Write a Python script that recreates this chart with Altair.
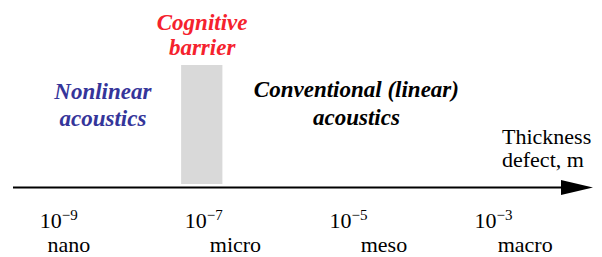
import altair as alt
import pandas as pd

# ---- data ----
exponents = [-9, -7, -5, -3]                 # tick values (powers of ten)
scale_names = ["nano", "micro", "meso", "macro"]
scale_name_at = [-8.6, -6.3, -4.25, -2.3]    # where each scale name sits (log10 m)
barrier_from = [-7.05]
barrier_to = [-6.48]
region_labels = ["Nonlinear\nacoustics", "Cognitive\nbarrier", "Conventional (linear)\nacoustics"]
region_at = [-8.13, -6.76, -4.63]
axis_title = "Thickness\ndefect, m"
axis_title_at = -2.62
x_domain = [-9.44, -1.35]

FONT = "Liberation Serif"
W, H = 586, 248

xs = alt.Scale(domain=x_domain, nice=False, zero=False)


def xq(field):
    return alt.X(field, type="quantitative", scale=xs, axis=None)


one = pd.DataFrame({"k": [0]})

ticks = pd.DataFrame({
    "exp": exponents,
    "mant": ["10"] * len(exponents),
    "sup": ["\u2212" + str(abs(e)) for e in exponents],
})
names = pd.DataFrame({"pos": scale_name_at, "name": scale_names})
barrier = pd.DataFrame({"x0": barrier_from, "x1": barrier_to})

rect = alt.Chart(barrier).mark_rect(color="#d9d9d9").encode(
    x=xq("x0"), x2="x1", y=alt.value(57), y2=alt.value(176)
)

axis_line = alt.Chart(one).mark_rule(color="black", strokeWidth=2).encode(
    x=alt.value(5), x2=alt.value(558), y=alt.value(179.5)
)
arrow_head = alt.Chart(one).mark_point(
    shape="M-1,-0.47L1,0L-1,0.47Z", filled=True, color="black", size=1024, opacity=1
).encode(x=alt.value(569), y=alt.value(179.5))

mant = alt.Chart(ticks).mark_text(
    font=FONT, fontSize=22, align="left", baseline="alphabetic", color="black"
).encode(x=xq("exp"), y=alt.value(220), text="mant:N")

sup = alt.Chart(ticks).mark_text(
    font=FONT, fontSize=15, align="left", baseline="alphabetic", color="black", dx=22
).encode(x=xq("exp"), y=alt.value(212), text="sup:N")

name_txt = alt.Chart(names).mark_text(
    font=FONT, fontSize=22, align="center", baseline="alphabetic", color="black"
).encode(x=xq("pos"), y=alt.value(244), text="name:N")

region_colors = ["#35359a", "#f5222d", "black"]
region_y = [91, 22, 89]
region_lh = [27, 25, 28]
regions = []
for lab, pos, col, yy, lh in zip(region_labels, region_at, region_colors, region_y, region_lh):
    df = pd.DataFrame({"pos": [pos], "label": [lab]})
    regions.append(
        alt.Chart(df).mark_text(
            font=FONT, fontSize=23, fontWeight="bold", fontStyle="italic",
            align="center", baseline="alphabetic", color=col,
            lineBreak="\n", lineHeight=lh,
        ).encode(x=xq("pos"), y=alt.value(yy), text="label:N")
    )

title_df = pd.DataFrame({"pos": [axis_title_at], "label": [axis_title]})
title_txt = alt.Chart(title_df).mark_text(
    font=FONT, fontSize=22, align="left", baseline="alphabetic", color="black",
    lineBreak="\n", lineHeight=23,
).encode(x=xq("pos"), y=alt.value(136), text="label:N")

chart = alt.layer(
    rect, axis_line, arrow_head, mant, sup, name_txt, *regions, title_txt
).properties(
    width=W, height=H, padding=0, autosize=alt.AutoSizeParams(type="none")
).configure_view(stroke=None)

chart.save("out.html", embed_options={"renderer": "svg", "actions": False})
